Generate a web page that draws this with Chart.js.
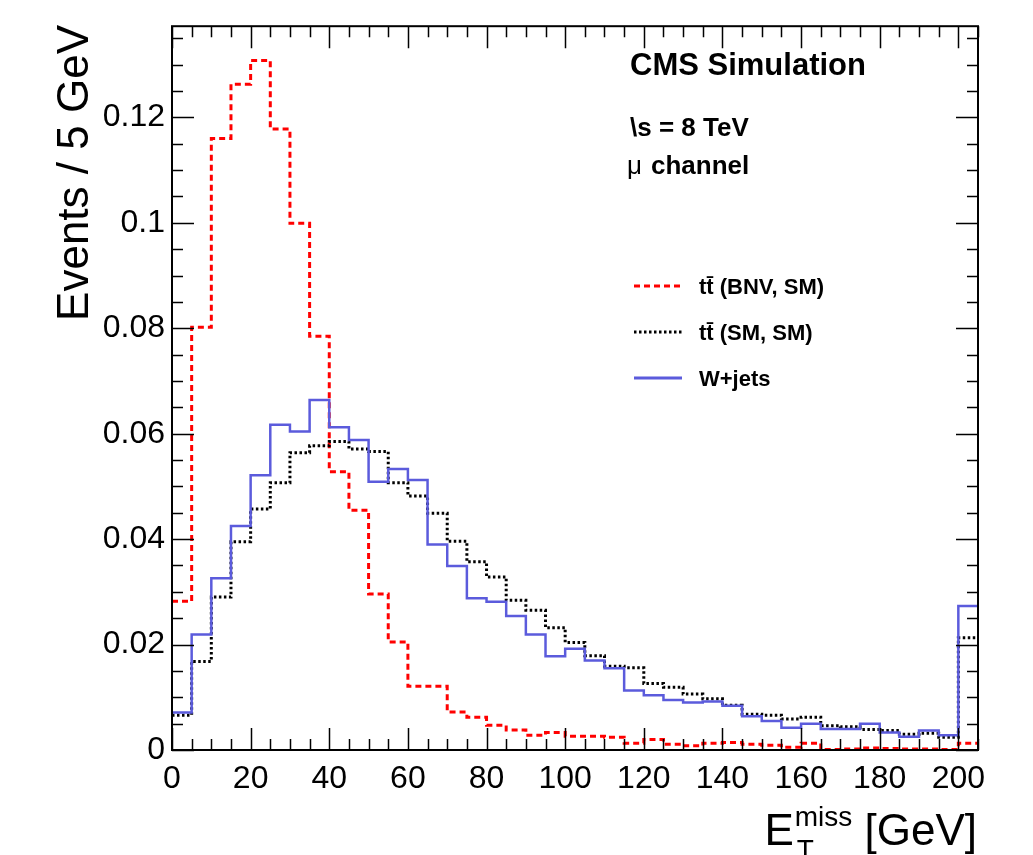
<!DOCTYPE html>
<html>
<head>
<meta charset="utf-8">
<script src="https://cdn.jsdelivr.net/npm/chart.js@4"></script>
<style>
  html, body { margin: 0; padding: 0; background: #fff; }
  #wrap { width: 1033px; height: 855px; position: relative; }
</style>
</head>
<body>
<div id="wrap"><canvas id="chart"></canvas></div>
<script>
// ===== data: lower bin edges (5 GeV bins) and contents =====
const BIN_LOW = [0,5,10,15,20,25,30,35,40,45,50,55,60,65,70,75,80,85,90,95,100,
                 105,110,115,120,125,130,135,140,145,150,155,160,165,170,175,180,185,190,195,200];
const X_MAX = 205;

const TT_BNV = [0.0282,0.0802,0.1160,0.1263,0.1308,0.1178,0.0999,0.0785,0.0528,0.0455,
                0.0296,0.0205,0.0121,0.0121,0.0072,0.0062,0.0047,0.0038,0.0028,0.0033,
                0.0026,0.0026,0.0024,0.0013,0.0020,0.0011,0.0008,0.0013,0.0014,0.0011,
                0.0009,0.0005,0.0013,0.0001,0.0002,0.0004,0.0003,0.0002,0.0002,0.0001,0.0013];
const TT_SM  = [0.0066,0.0168,0.0290,0.0395,0.0457,0.0507,0.0564,0.0577,0.0585,0.0571,
                0.0566,0.0507,0.0482,0.0449,0.0396,0.0357,0.0328,0.0284,0.0265,0.0232,
                0.0204,0.0179,0.0159,0.0156,0.0126,0.0119,0.0106,0.0097,0.0085,0.0068,
                0.0066,0.0059,0.0062,0.0046,0.0044,0.0039,0.0037,0.0030,0.0032,0.0024,0.0213];
const WJETS  = [0.0071,0.0219,0.0326,0.0425,0.0521,0.0617,0.0604,0.0664,0.0612,0.0588,
                0.0509,0.0533,0.0512,0.0390,0.0349,0.0288,0.0281,0.0254,0.0219,0.0178,
                0.0192,0.0170,0.0155,0.0113,0.0104,0.0095,0.0090,0.0092,0.0084,0.0064,
                0.0055,0.0042,0.0050,0.0040,0.0040,0.0050,0.0033,0.0025,0.0037,0.0028,0.0273];

const X_TICKS = [0,20,40,60,80,100,120,140,160,180,200];
const Y_TICKS = [0,0.02,0.04,0.06,0.08,0.1,0.12];
const Y_TICK_LABELS = ['0','0.02','0.04','0.06','0.08','0.1','0.12'];
const Y_MAX = 0.1373;

const COLORS = { bnv: '#ff0000', sm: '#000000', wjets: '#5b5bdc' };
const FONT = "'Liberation Sans', Arial, Helvetica, sans-serif";

// histogram -> step points, last bin closed at X_MAX
function histPoints(vals) {
  const pts = BIN_LOW.map((x, i) => ({ x: x, y: vals[i] }));
  pts.push({ x: X_MAX, y: vals[vals.length - 1] });
  return pts;
}

// ===== frame, inward ticks, titles, labels (ROOT look) =====
const rootStyle = {
  id: 'rootStyle',
  afterDatasetsDraw(chart) {
    const { ctx, chartArea: a, scales: { x, y } } = chart;
    ctx.save();
    ctx.strokeStyle = '#000';

    // ticks
    ctx.lineWidth = 1.5;
    ctx.beginPath();
    for (let v = 0; v <= X_MAX + 0.001; v += 5) {
      const px = Math.round(x.getPixelForValue(v)) + 0.5;
      const len = (v % 20 === 0) ? 22 : 11;
      ctx.moveTo(px, a.bottom); ctx.lineTo(px, a.bottom - len);
      ctx.moveTo(px, a.top); ctx.lineTo(px, a.top + len);
    }
    for (let v = 0; v <= Y_MAX + 1e-6; v += 0.005) {
      const py = Math.round(y.getPixelForValue(v)) + 0.5;
      const major = Math.abs(v / 0.02 - Math.round(v / 0.02)) < 1e-6;
      const len = major ? 22 : 11;
      ctx.moveTo(a.left, py); ctx.lineTo(a.left + len, py);
      ctx.moveTo(a.right, py); ctx.lineTo(a.right - len, py);
    }
    ctx.stroke();

    // frame
    ctx.lineWidth = 2;
    ctx.strokeRect(a.left, a.top, a.right - a.left, a.bottom - a.top);

    // text block
    ctx.fillStyle = '#000';
    ctx.textAlign = 'left';
    ctx.textBaseline = 'alphabetic';
    ctx.font = 'bold 31px ' + FONT;
    ctx.fillText('CMS Simulation', 630, 75);
    ctx.font = 'bold 26px ' + FONT;
    ctx.fillText('\\s = 8 TeV', 630, 136);
    ctx.font = '26px ' + FONT;
    ctx.fillText('\u03bc', 627, 174);
    ctx.font = 'bold 26px ' + FONT;
    ctx.fillText('channel', 651, 174);

    // legend
    const legend = [
      { label: 'tt\u0304 (BNV, SM)', color: COLORS.bnv, dash: [6, 4], width: 3, y: 286 },
      { label: 'tt\u0304 (SM, SM)', color: COLORS.sm, dash: [2.5, 2.5], width: 3, y: 332 },
      { label: 'W+jets', color: COLORS.wjets, dash: [], width: 3, y: 378 },
    ];
    legend.forEach(item => {
      ctx.beginPath();
      ctx.setLineDash(item.dash);
      ctx.lineWidth = item.width;
      ctx.strokeStyle = item.color;
      ctx.moveTo(634, item.y); ctx.lineTo(682, item.y);
      ctx.stroke();
      ctx.setLineDash([]);
      ctx.font = 'bold 22px ' + FONT;
      ctx.fillStyle = '#000';
      ctx.textBaseline = 'middle';
      ctx.fillText(item.label, 699, item.y + 2);
    });

    // y title
    ctx.textBaseline = 'alphabetic';
    ctx.font = '44px ' + FONT;
    ctx.save();
    ctx.translate(88, 25);
    ctx.rotate(-Math.PI / 2);
    ctx.textAlign = 'right';
    ctx.fillText('Events / 5 GeV', 0, 0);
    ctx.restore();

    // x title: E_T^miss [GeV], right aligned to frame
    const big = '44px ' + FONT, small = '28px ' + FONT;
    ctx.font = big;
    const wE = ctx.measureText('E').width;
    const wUnit = ctx.measureText(' [GeV]').width;
    ctx.font = small;
    const wSup = ctx.measureText('miss').width;
    const xEnd = 977;
    const xUnit = xEnd - wUnit;
    const xSup = xUnit - wSup;
    const xE = xSup - wE - 1;
    const base = 845;
    ctx.textAlign = 'left';
    ctx.font = big;
    ctx.fillText('E', xE, base);
    ctx.fillText(' [GeV]', xUnit, base);
    ctx.font = small;
    ctx.fillText('miss', xSup, base - 19);
    ctx.fillText('T', xSup + 2, base + 14);
    ctx.restore();
  }
};

new Chart(document.getElementById('chart'), {
  type: 'line',
  data: {
    datasets: [
      { label: 'tt (BNV, SM)', data: histPoints(TT_BNV), borderColor: COLORS.bnv,
        borderWidth: 3, borderDash: [6, 4], order: 2 },
      { label: 'tt (SM, SM)', data: histPoints(TT_SM), borderColor: COLORS.sm,
        borderWidth: 3, borderDash: [2.5, 2.5], order: 1 },
      { label: 'W+jets', data: histPoints(WJETS), borderColor: COLORS.wjets,
        borderWidth: 2.5, order: 0 },
    ]
  },
  options: {
    responsive: true,
    maintainAspectRatio: false,
    animation: false,
    layout: { padding: { left: 0, right: 55, top: 24, bottom: 0 } },
    elements: {
      line: { stepped: 'before', tension: 0, fill: false, borderCapStyle: 'butt' },
      point: { radius: 0, hoverRadius: 0 }
    },
    plugins: { legend: { display: false }, tooltip: { enabled: false } },
    scales: {
      x: {
        type: 'linear', min: 0, max: X_MAX,
        grid: { display: false, drawTicks: false },
        border: { display: false },
        afterBuildTicks: s => { s.ticks = X_TICKS.map(v => ({ value: v })); },
        afterFit: s => { s.height = 105; },
        ticks: { color: '#000', padding: 10, maxRotation: 0, autoSkip: false,
                 font: { family: FONT, size: 32 } }
      },
      y: {
        type: 'linear', min: 0, max: Y_MAX,
        grid: { display: false, drawTicks: false },
        border: { display: false },
        afterBuildTicks: s => { s.ticks = Y_TICKS.map(v => ({ value: v })); },
        afterFit: s => { s.width = 172; },
        ticks: { color: '#000', padding: 7, autoSkip: false,
                 font: { family: FONT, size: 32 },
                 callback: (v, i) => Y_TICK_LABELS[i] }
      }
    }
  },
  plugins: [rootStyle]
});
</script>
</body>
</html>
